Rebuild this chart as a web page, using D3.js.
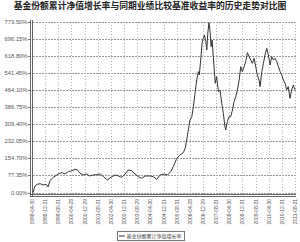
<!DOCTYPE html>
<html>
<head>
<meta charset="utf-8">
<script src="https://cdn.jsdelivr.net/npm/d3@7"></script>
<style>
  body { margin: 0; background: #fff; }
  svg { display: block; }
</style>
</head>
<body>
<svg id="chart" width="300" height="242"></svg>
<script>
  var chartTitle = '基金份额累计净值增长率与同期业绩比较基准收益率的历史走势对比图';
  var legendLabel = '基金份额累计净值增长率';

  // y axis ticks (percent)
  var yTickValues = [0, 77.35, 154.70, 232.05, 309.40, 386.75, 464.10, 541.45, 618.80, 696.15, 773.50];

  // x axis tick labels (dates)
  var xTickLabels = [
    '1998-04-30', '1998-12-31', '1999-08-31', '2000-04-28', '2000-12-29',
    '2001-08-31', '2002-04-30', '2002-12-31', '2003-08-29', '2004-04-30',
    '2004-12-31', '2005-08-31', '2006-04-28', '2006-12-29', '2007-08-31',
    '2008-04-30', '2008-12-31', '2009-08-31', '2010-04-30', '2010-12-31',
    '2011-08-31'
  ];

  // cumulative NAV growth, decimal year -> percent
  var navYears = [
    1998.38, 1998.48, 1998.58, 1998.74, 1998.89, 1999.04, 1999.14, 1999.24, 1999.41, 1999.66,
    1999.84, 2000.00, 2000.17, 2000.34, 2000.51, 2000.63, 2000.76, 2000.93, 2001.10, 2001.23,
    2001.41, 2001.61, 2001.78, 2001.95, 2002.15, 2002.32, 2002.54, 2002.71, 2002.88, 2003.05,
    2003.21, 2003.38, 2003.55, 2003.72, 2003.89, 2004.06, 2004.31, 2004.48, 2004.65, 2004.82,
    2005.02, 2005.19, 2005.36, 2005.49, 2005.67, 2005.83, 2006.00, 2006.09, 2006.17, 2006.25,
    2006.34, 2006.43, 2006.51, 2006.59, 2006.68, 2006.76, 2006.81, 2006.88, 2006.95, 2007.01,
    2007.07, 2007.14, 2007.19, 2007.24, 2007.30, 2007.35, 2007.41, 2007.46, 2007.52, 2007.57,
    2007.62, 2007.69, 2007.78, 2007.86, 2007.95, 2008.03, 2008.11, 2008.15, 2008.23, 2008.32,
    2008.40, 2008.49, 2008.57, 2008.66, 2008.74, 2008.83, 2008.91, 2008.99, 2009.08, 2009.16,
    2009.25, 2009.33, 2009.42, 2009.50, 2009.59, 2009.67, 2009.75, 2009.84, 2009.89, 2009.98,
    2010.06, 2010.14, 2010.23, 2010.31, 2010.40, 2010.48, 2010.57, 2010.65, 2010.74, 2010.82,
    2010.91, 2010.99, 2011.07, 2011.16, 2011.24, 2011.32, 2011.41, 2011.49, 2011.58, 2011.66
  ];
  var navGrowth = [
    0, 30, 37, 40, 34, 37, 25, 55, 68.7, 83.8,
    89.9, 83.8, 94.4, 98.9, 104.9, 101.9, 86.8, 79.3, 83.8, 74.8,
    79.3, 80.8, 83.8, 71.7, 56.6, 68.7, 79.3, 74.8, 68.7, 83.8,
    101.9, 98.9, 83.8, 71.7, 64.2, 74.8, 74.8, 71.7, 59.7, 79.3,
    83.8, 79.3, 94.4, 117.0, 154.8, 169.9, 180.4, 200.1, 237.8, 283.1,
    328.4, 343.5, 388.8, 449.2, 509.5, 547.3, 532.2, 600.1, 675.6, 698.3,
    713.4, 683.2, 645.4, 720.9, 769.2, 736.0, 660.5, 690.7, 615.2, 554.8,
    494.5, 524.6, 456.7, 464.3, 403.9, 358.6, 298.2, 283.1, 320.9, 343.5,
    343.5, 373.7, 411.4, 434.1, 464.3, 509.5, 569.9, 547.3, 569.9, 592.6,
    633.3, 615.2, 600.1, 585.0, 607.7, 569.9, 532.2, 509.5, 479.4, 547.3,
    585.0, 622.8, 653.0, 622.8, 577.5, 615.2, 600.1, 607.7, 592.6, 569.9,
    547.3, 532.2, 509.5, 494.5, 464.3, 479.4, 426.5, 464.3, 486.9, 464.3
  ];

  var margin = { top: 21.7, right: 4, bottom: 49.5, left: 32 };
  var width = 300, height = 242;
  var plotBottom = height - margin.bottom;

  var parseDate = d3.timeParse('%Y-%m-%d');
  var tickDates = xTickLabels.map(parseDate);

  // decimal year -> Date
  function yearToDate(v) {
    var y0 = Math.floor(v);
    var start = new Date(y0, 0, 1), end = new Date(y0 + 1, 0, 1);
    return new Date(+start + (v - y0) * (end - start));
  }

  var series = navYears.map(function(y, i) {
    return { date: yearToDate(y), value: navGrowth[i] };
  });

  var x = d3.scaleTime()
    .domain([tickDates[0], tickDates[tickDates.length - 1]])
    .range([margin.left, width - 5]);

  var y = d3.scaleLinear()
    .domain([0, 773.5])
    .range([plotBottom, margin.top]);

  var svg = d3.select('#chart');

  svg.append('rect')
    .attr('width', width).attr('height', height)
    .attr('fill', '#fff');

  // title
  svg.append('text')
    .attr('x', 150).attr('y', 8.5)
    .attr('text-anchor', 'middle')
    .attr('font-family', '"Noto Sans CJK SC", sans-serif')
    .attr('font-weight', 'bold')
    .attr('font-size', 8.8)
    .attr('fill', '#222')
    .text(chartTitle);

  // gridlines
  var grid = svg.append('g').attr('class', 'grid')
    .attr('stroke', '#9a9a9a')
    .attr('stroke-dasharray', '1.5,1.5')
    .attr('shape-rendering', 'crispEdges');

  grid.selectAll('line.h')
    .data(yTickValues)
    .enter().append('line')
    .attr('class', 'h')
    .attr('x1', margin.left + 1).attr('x2', x.range()[1] + 1)
    .attr('y1', function(d) { return Math.round(y(d)) + 0.5; })
    .attr('y2', function(d) { return Math.round(y(d)) + 0.5; });

  grid.selectAll('line.v')
    .data(tickDates.slice(1))
    .enter().append('line')
    .attr('class', 'v')
    .attr('stroke', '#b0b0b0')
    .attr('y1', margin.top).attr('y2', plotBottom + 2)
    .attr('x1', function(d) { return Math.round(x(d)) + 0.5; })
    .attr('x2', function(d) { return Math.round(x(d)) + 0.5; });

  // y axis labels + small ticks
  var yAxis = svg.append('g').attr('class', 'y-axis');
  yAxis.selectAll('text')
    .data(yTickValues)
    .enter().append('text')
    .attr('x', 27.5)
    .attr('y', function(d) { return y(d) + 2; })
    .attr('text-anchor', 'end')
    .attr('font-family', '"Liberation Sans", Arial, sans-serif')
    .attr('font-size', 5.8)
    .attr('fill', '#555')
    .text(function(d) { return d.toFixed(2) + '%'; });

  yAxis.selectAll('line')
    .data(yTickValues)
    .enter().append('line')
    .attr('x1', 28).attr('x2', 30.5)
    .attr('y1', function(d) { return Math.round(y(d)) + 0.5; })
    .attr('y2', function(d) { return Math.round(y(d)) + 0.5; })
    .attr('stroke', '#777')
    .attr('shape-rendering', 'crispEdges');

  // x axis labels, rotated
  svg.append('g').attr('class', 'x-axis')
    .selectAll('text')
    .data(tickDates)
    .enter().append('text')
    .attr('transform', function(d, i) {
      return 'translate(' + (x(d) + 2) + ',' + 199 + ') rotate(-90)';
    })
    .attr('text-anchor', 'end')
    .attr('font-family', '"Liberation Sans", Arial, sans-serif')
    .attr('font-size', 5)
    .attr('fill', '#555')
    .text(function(d, i) { return xTickLabels[i]; });

  // double axis lines
  var axes = svg.append('g').attr('stroke', '#666').attr('shape-rendering', 'crispEdges');
  [30.5, 32.5].forEach(function(ax) {
    axes.append('line')
      .attr('x1', ax).attr('x2', ax)
      .attr('y1', 20).attr('y2', 196.5);
  });
  [194.5, 196.5].forEach(function(ay) {
    axes.append('line')
      .attr('x1', 30).attr('x2', 296)
      .attr('y1', ay).attr('y2', ay);
  });

  // NAV growth line
  var line = d3.line()
    .x(function(d) { return x(d.date); })
    .y(function(d) { return y(d.value); });

  svg.append('path')
    .datum(series)
    .attr('fill', 'none')
    .attr('stroke', '#333')
    .attr('stroke-width', 1)
    .attr('stroke-linejoin', 'round')
    .attr('d', line);

  // legend
  var legend = svg.append('g').attr('class', 'legend');
  legend.append('rect')
    .attr('x', 117.5).attr('y', 231.5)
    .attr('width', 67).attr('height', 9)
    .attr('fill', '#fff')
    .attr('stroke', '#777')
    .attr('shape-rendering', 'crispEdges');
  legend.append('line')
    .attr('x1', 119).attr('x2', 125)
    .attr('y1', 236).attr('y2', 236)
    .attr('stroke', '#333');
  legend.append('text')
    .attr('x', 126.5).attr('y', 238)
    .attr('font-family', '"Noto Sans CJK SC", sans-serif')
    .attr('font-size', 5)
    .attr('fill', '#444')
    .text(legendLabel);
</script>
</body>
</html>
